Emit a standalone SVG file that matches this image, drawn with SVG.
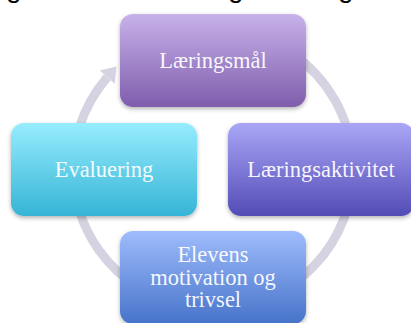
<svg xmlns="http://www.w3.org/2000/svg" width="411" height="323" viewBox="0 0 411 323">
<style>
.lbl{font-family:"Liberation Serif","Times New Roman",serif;font-size:22.5px;fill:#ffffff;fill-opacity:0.95;text-anchor:middle}
.frag{font-family:"Liberation Sans",Arial,sans-serif;font-size:28px;fill:#000}
.ring{fill:none;stroke:#d5d2e1;stroke-width:9}
</style>
<defs>
<linearGradient id="gPurple" x1="0" y1="0" x2="0" y2="1">
<stop offset="0" stop-color="#c7b2ea"/><stop offset="1" stop-color="#7f5dac"/>
</linearGradient>
<linearGradient id="gCyan" x1="0" y1="0" x2="0" y2="1">
<stop offset="0" stop-color="#96edfd"/><stop offset="1" stop-color="#36b4d6"/>
</linearGradient>
<linearGradient id="gViolet" x1="0" y1="0" x2="0" y2="1">
<stop offset="0" stop-color="#aaa6f6"/><stop offset="1" stop-color="#524cb6"/>
</linearGradient>
<linearGradient id="gBlue" x1="0" y1="0" x2="0" y2="1">
<stop offset="0" stop-color="#9fbcfc"/><stop offset="1" stop-color="#4673c9"/>
</linearGradient>
<filter id="sh" x="-10%" y="-10%" width="120%" height="130%">
<feDropShadow dx="0" dy="2" stdDeviation="2" flood-color="#000" flood-opacity="0.3"/>
</filter>
</defs>
<rect width="411" height="323" fill="#fff"/>
<g id="title-fragments">
<text class="frag" x="6" y="-3">g</text>
<text class="frag" x="228" y="-3">g</text>
<text class="frag" x="338" y="-3">g</text>
</g>
<g id="connectors">
<path class="ring" d="M237.3,31.1 A140,140 0 1 1 107.3,77.2"/>
<polygon points="99.8,70.6 116.5,66.6 114.8,83.8" fill="#d5d2e1"/>
</g>
<g id="node-laeringsmal">
<rect x="120" y="14" width="186" height="93" rx="13" fill="url(#gPurple)" filter="url(#sh)"/>
<text class="lbl" x="213" y="68">Læringsmål</text>
</g>
<g id="node-laeringsaktivitet">
<rect x="228" y="123" width="186" height="93" rx="13" fill="url(#gViolet)" filter="url(#sh)"/>
<text class="lbl" x="321" y="177">Læringsaktivitet</text>
</g>
<g id="node-elevens">
<rect x="120" y="231" width="186" height="93" rx="13" fill="url(#gBlue)" filter="url(#sh)"/>
<text class="lbl" x="213" y="262">Elevens</text>
<text class="lbl" x="213" y="284.5">motivation og</text>
<text class="lbl" x="213" y="307">trivsel</text>
</g>
<g id="node-evaluering">
<rect x="11" y="123" width="186" height="93" rx="13" fill="url(#gCyan)" filter="url(#sh)"/>
<text class="lbl" x="104" y="177">Evaluering</text>
</g>
</svg>
